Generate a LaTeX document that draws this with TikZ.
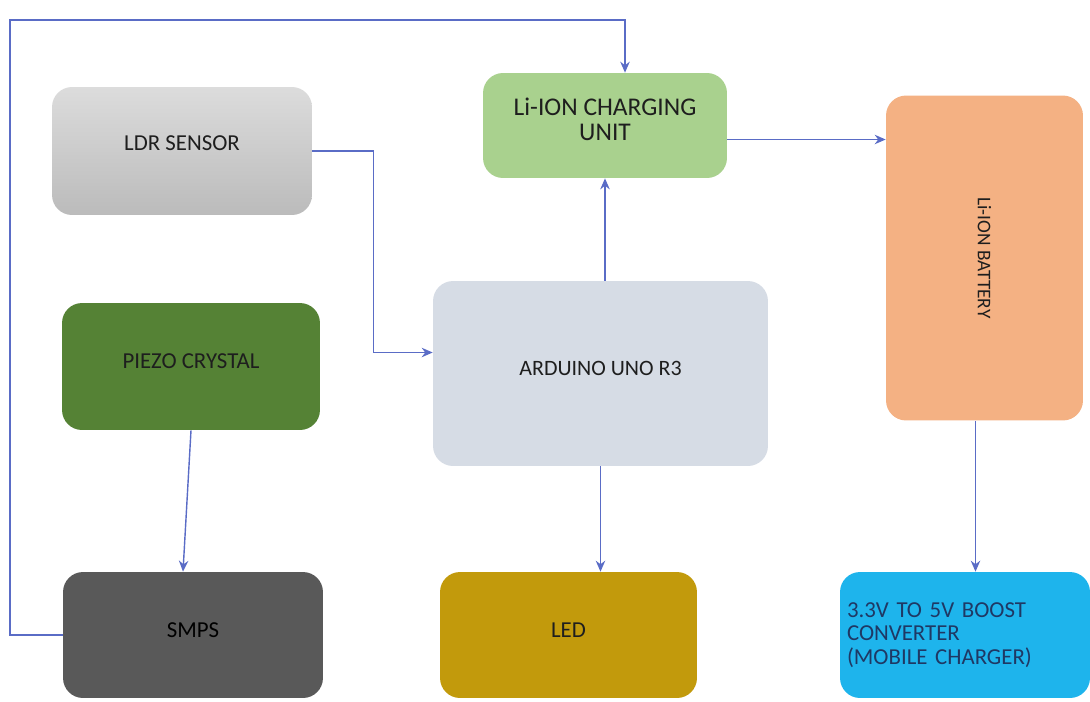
\documentclass[tikz,border=0pt]{standalone}
\usepackage{fontspec}
\setmainfont{Carlito}
\usetikzlibrary{arrows.meta, positioning, calc}

\definecolor{wireblue}{HTML}{5A6CC6}
\definecolor{textdark}{HTML}{1E1E1E}
\definecolor{ldrtop}{HTML}{DCDCDC}
\definecolor{ldrbot}{HTML}{BBBBBB}
\definecolor{chargegreen}{HTML}{A9D18E}
\definecolor{battorange}{HTML}{F4B183}
\definecolor{piezogreen}{HTML}{558235}
\definecolor{arduinoblue}{HTML}{D6DCE5}
\definecolor{smpsgray}{HTML}{595959}
\definecolor{ledgold}{HTML}{C29A0C}
\definecolor{boostblue}{HTML}{1EB4EC}
\definecolor{boosttext}{HTML}{1F3864}

\begin{document}
\begin{tikzpicture}[
    x=0.02cm, y=-0.02cm,
    unit/.style={rounded corners=0.4cm, align=center, inner sep=0pt, text=textdark,
      text depth=6pt, font=\fontsize{13}{14}\selectfont},
    wire/.style={draw=wireblue, line width=0.8pt},
    >={Stealth[length=2.2mm, width=1.9mm]}
  ]
  \useasboundingbox (0,0) rectangle (1090,701);

  \node[unit, top color=ldrtop, bottom color=ldrbot, text depth=9pt, minimum width=5.2cm, minimum height=2.56cm] (ldr) at (182,151) {LDR SENSOR};
  \node[unit, fill=chargegreen, font=\fontsize{14.5}{14}\selectfont, text depth=7pt, minimum width=4.88cm, minimum height=2.1cm] (charge) at (605,125.5) {Li-ION CHARGING\\UNIT};
  \node[unit, fill=battorange, minimum width=3.94cm, minimum height=6.5cm] (battery) at (984.5,258) {};
  \node[rotate=-90, text=textdark, font=\fontsize{11}{14}\selectfont] (battlabel) at (battery.center) {Li-ION BATTERY};
  \node[unit, fill=piezogreen, minimum width=5.16cm, minimum height=2.54cm] (piezo) at (191,366.5) {PIEZO CRYSTAL};
  \node[unit, fill=arduinoblue, font=\fontsize{12.5}{14}\selectfont, minimum width=6.7cm, minimum height=3.7cm] (arduino) at (600.5,373.5) {ARDUINO UNO R3};
  \node[unit, fill=smpsgray, text=black, minimum width=5.2cm, minimum height=2.52cm] (smps) at (193,635) {SMPS};
  \node[unit, fill=ledgold, minimum width=5.14cm, minimum height=2.52cm] (led) at (568.5,635) {LED};
  \node[unit, fill=boostblue, text=boosttext, align=left, text width=4.72cm, inner xsep=0.14cm,
    text depth={}, font=\fontsize{13}{13.5}\selectfont, minimum height=2.52cm] (boost) at (965,635) {3.3V TO 5V BOOST\\CONVERTER\\(MOBILE CHARGER)};

  \coordinate (fbcorner) at (10,20);
  \coordinate (chargeout) at ($(charge.east)+(0,14)$);
  \coordinate (battout) at ($(battery.south)+(-9,0)$);

  \draw[wire, ->] (smps.west) -| (fbcorner) -| ($(charge.north)+(20,0)$);
  \draw[wire, ->] (ldr.east) -- ++(61,0) |- ($(arduino.west)+(0,-21)$);
  \draw[wire, ->] (charge.south |- arduino.north) -- (charge.south);
  \draw[wire, ->] (chargeout) -- (chargeout -| battery.west);
  \draw[wire, ->] (piezo.south) -- ($(smps.north)+(-10,0)$);
  \draw[wire, ->] (arduino.south) -- (arduino.south |- led.north);
  \draw[wire, ->] (battout) -- (battout |- boost.north);
\end{tikzpicture}
\end{document}
